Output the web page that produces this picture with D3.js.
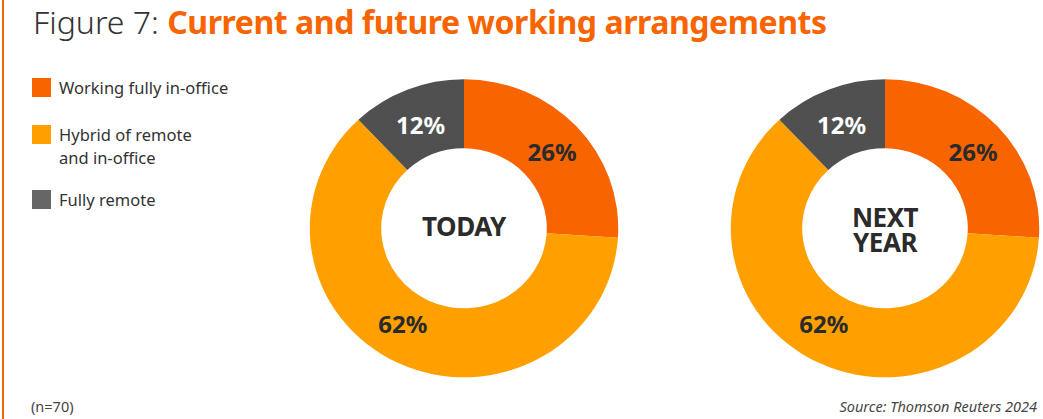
<!DOCTYPE html>
<html>
<head>
<meta charset="utf-8">
<script src="https://cdn.jsdelivr.net/npm/d3@7"></script>
<style>
  html, body { margin: 0; padding: 0; background: #fff; }
  svg { display: block; font-family: "Noto Sans", "Open Sans", sans-serif; }
</style>
</head>
<body>
<svg id="chart" width="1043" height="419"></svg>
<script>
// Working arrangement categories and their shares (%)
const categories = ["Working fully in-office", "Hybrid of remote and in-office", "Fully remote"];
const legendLines = [["Working fully in-office"], ["Hybrid of remote", "and in-office"], ["Fully remote"]];
const panels = ["TODAY", "NEXT YEAR"];
const panelLines = [["TODAY"], ["NEXT", "YEAR"]];
const todayValues = [26, 62, 12];
const nextYearValues = [26, 62, 12];

const sliceColors = ["#F76400", "#FFA000", "#505050"];
const legendColors = ["#F76400", "#FFA000", "#666666"];
const labelColors = ["#2b2b2b", "#2b2b2b", "#ffffff"];
// small per-slice nudges of the value labels away from the arc centroid
const labelNudge = [[2, -2], [-11, -11], [0, -1]];

const svg = d3.select("#chart");
const W = 1043, H = 419;

// left accent rule
svg.append("line")
  .attr("x1", 3).attr("x2", 3).attr("y1", 0).attr("y2", H)
  .attr("stroke", "#F76400").attr("stroke-width", 2);

// title
const title = svg.append("text").attr("x", 33).attr("y", 33.5).attr("font-size", 32);
title.append("tspan").attr("font-weight", 300).attr("fill", "#333").text("Figure 7: ");
title.append("tspan").attr("font-weight", 700).attr("fill", "#F76400")
  .attr("letter-spacing", -0.45)
  .text("Current and future working arrangements");

// legend
const legendY = [78, 125, 190];
const legend = svg.append("g");
legendLines.forEach((lines, i) => {
  const g = legend.append("g").attr("transform", `translate(32,${legendY[i]})`);
  g.append("rect").attr("width", 19).attr("height", 19).attr("fill", legendColors[i]);
  const t = g.append("text").attr("x", 27).attr("y", 15.8)
    .attr("font-size", 16.5).attr("fill", "#333");
  lines.forEach((ln, j) => {
    t.append("tspan").attr("x", 27).attr("dy", j === 0 ? 0 : 23.5).text(ln);
  });
});

// donuts
const pie = d3.pie().sort(null).value(d => d);
const outerR = 149, innerR = 80, stretch = 1.035;
const arc = d3.arc().innerRadius(innerR).outerRadius(outerR);
const labelArc = d3.arc().innerRadius(114).outerRadius(114);
const x = d3.scalePoint().domain(panels).range([464, 885]);
const cy = 228.3;

[todayValues, nextYearValues].forEach((vals, p) => {
  const cx = x(panels[p]);
  const arcs = pie(vals);
  const g = svg.append("g").attr("transform", `translate(${cx},${cy})`);
  g.append("g").attr("transform", `scale(${stretch},1)`)
    .selectAll("path").data(arcs).join("path")
    .attr("d", arc).attr("fill", (d, i) => sliceColors[i]);

  g.selectAll("text.val").data(arcs).join("text")
    .attr("class", "val")
    .attr("x", (d, i) => labelArc.centroid(d)[0] * stretch + labelNudge[i][0])
    .attr("y", (d, i) => labelArc.centroid(d)[1] + 3 + labelNudge[i][1])
    .attr("text-anchor", "middle").attr("dominant-baseline", "central")
    .attr("font-size", 24).attr("font-weight", 700)
    .attr("fill", (d, i) => labelColors[i])
    .text(d => d.data + "%");

  const lines = panelLines[p];
  const n = lines.length;
  const lh = 25;
  const ct = g.append("text").attr("text-anchor", "middle")
    .attr("font-size", 26).attr("font-weight", 700).attr("fill", "#2b2b2b")
    .attr("letter-spacing", -0.5);
  lines.forEach((ln, j) => {
    ct.append("tspan").attr("x", 0)
      .attr("y", (j - (n - 1) / 2) * lh + 8 + (n - 1) * 3)
      .text(ln);
  });
});

// footer
svg.append("text").attr("x", 31).attr("y", 412).attr("font-size", 14.5)
  .attr("fill", "#444").text("(n=70)");
svg.append("text").attr("x", 1037).attr("y", 412).attr("font-size", 14.5)
  .attr("text-anchor", "end").attr("font-style", "italic")
  .attr("fill", "#444").text("Source: Thomson Reuters 2024");
</script>
</body>
</html>
